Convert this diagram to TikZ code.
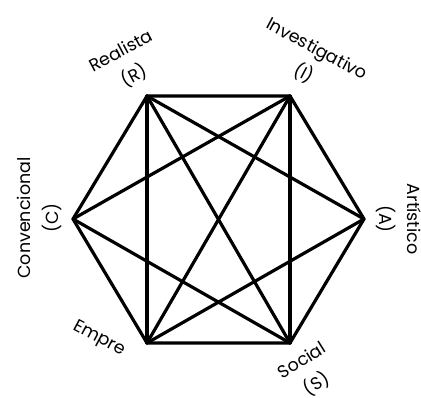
\documentclass[tikz,border=0pt]{standalone}
\usepackage{fontspec}
\setmainfont{Poppins}
\usetikzlibrary{positioning}

\begin{document}
\begin{tikzpicture}[
    x=1pt,
    y=-1pt,
    every node/.style={font=\fontsize{17.5}{28}\selectfont},
    lado/.style={
        draw=black,
        line width=3.2pt,
        line join=round,
        line cap=round
    },
    rotulo/.style={
        align=center,
        inner sep=0pt
    }
]

\useasboundingbox (0,0) rectangle (421,398);

% ============================================================
% VERTICES
% ============================================================

\coordinate (R) at (147,96);
\coordinate (I) at (290,96);
\coordinate (A) at (364,219);
\coordinate (S) at (290,343);
\coordinate (E) at (147,343);
\coordinate (C) at (73,219);

% Hexagono
\draw[lado] (R) -- (I) -- (A) -- (S) -- (E) -- (C) -- cycle;

% Verticais
\draw[lado] (R) -- (E);
\draw[lado] (I) -- (S);

% Diagonais
\draw[lado] (R) -- (S);
\draw[lado] (I) -- (E);
\draw[lado] (C) -- (I);
\draw[lado] (C) -- (S);
\draw[lado] (A) -- (R);
\draw[lado] (A) -- (E);

% ============================================================
% ROTULOS
% ============================================================

\node[
    rotulo,
    rotate=28
] (rotR) at (128,64)
{Realista\\(R)};

\node[
    rotulo,
    rotate=-28
] (rotI) at (310,62)
{Investigativo\\(I)};

\node[
    rotulo,
    rotate=90
] (rotC) at (39,218)
{Convencional\\(C)};

\node[
    rotulo,
    rotate=-90
] (rotA) at (399,219)
{Artístico\\(A)};

\node[
    rotulo,
    rotate=32
] (rotS) at (310,373)
{Social\\(S)};

% Rotulo cortado
\begin{scope}
    \clip (0,0) rectangle (421,356);
    \node[
        rotulo,
        rotate=-28
    ] (rotE) at (99,339)
    {Empre};
\end{scope}

\end{tikzpicture}
\end{document}
